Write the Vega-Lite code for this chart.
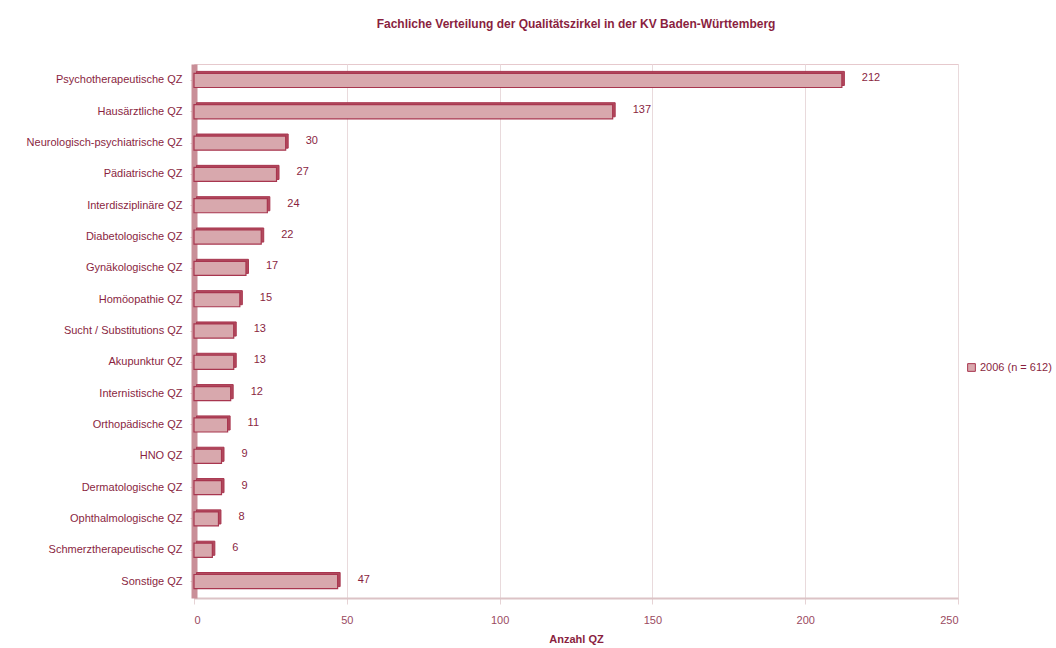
{
  "$schema": "https://vega.github.io/schema/vega-lite/v6.json",
  "autosize": "none",
  "width": 764,
  "height": 534,
  "padding": {"left": 194, "top": 64, "right": 98, "bottom": 50},
  "background": "white",
  "title": {
    "text": "Fachliche Verteilung der Qualitätszirkel in der KV Baden-Württemberg",
    "font": "Liberation Sans",
    "fontSize": 12,
    "fontWeight": "bold",
    "color": "#8a1f3f",
    "anchor": "middle",
    "offset": 33
  },
  "config": {
    "view": {"stroke": "#e6c9cd", "strokeWidth": 1},
    "font": "Liberation Sans"
  },
  "data": {
    "values": [
      {"cat": "Psychotherapeutische QZ", "n": 212, "series": "2006 (n = 612)"},
      {"cat": "Hausärztliche QZ", "n": 137, "series": "2006 (n = 612)"},
      {"cat": "Neurologisch-psychiatrische QZ", "n": 30, "series": "2006 (n = 612)"},
      {"cat": "Pädiatrische QZ", "n": 27, "series": "2006 (n = 612)"},
      {"cat": "Interdisziplinäre QZ", "n": 24, "series": "2006 (n = 612)"},
      {"cat": "Diabetologische QZ", "n": 22, "series": "2006 (n = 612)"},
      {"cat": "Gynäkologische QZ", "n": 17, "series": "2006 (n = 612)"},
      {"cat": "Homöopathie QZ", "n": 15, "series": "2006 (n = 612)"},
      {"cat": "Sucht / Substitutions QZ", "n": 13, "series": "2006 (n = 612)"},
      {"cat": "Akupunktur QZ", "n": 13, "series": "2006 (n = 612)"},
      {"cat": "Internistische QZ", "n": 12, "series": "2006 (n = 612)"},
      {"cat": "Orthopädische QZ", "n": 11, "series": "2006 (n = 612)"},
      {"cat": "HNO QZ", "n": 9, "series": "2006 (n = 612)"},
      {"cat": "Dermatologische QZ", "n": 9, "series": "2006 (n = 612)"},
      {"cat": "Ophthalmologische QZ", "n": 8, "series": "2006 (n = 612)"},
      {"cat": "Schmerztherapeutische QZ", "n": 6, "series": "2006 (n = 612)"},
      {"cat": "Sonstige QZ", "n": 47, "series": "2006 (n = 612)"}
    ]
  },
  "encoding": {
    "y": {
      "field": "cat",
      "type": "nominal",
      "sort": null,
      "scale": {"paddingInner": 0.55, "paddingOuter": 0.3},
      "axis": {
        "title": null,
        "labelFont": "Liberation Sans",
        "labelFontSize": 11,
        "labelColor": "#8a1f3f",
        "labelPadding": 8,
        "domainColor": "#c98f98",
        "domainWidth": 6,
        "tickColor": "#e6c9cd",
        "tickSize": 4
      }
    },
    "x": {
      "field": "n",
      "type": "quantitative",
      "scale": {"domain": [0, 250], "nice": false},
      "axis": {
        "title": "Anzahl QZ",
        "titleFont": "Liberation Sans",
        "titleFontSize": 11,
        "titleFontWeight": "bold",
        "titleColor": "#8a1f3f",
        "titlePadding": 8,
        "values": [0, 50, 100, 150, 200, 250],
        "labelFont": "Liberation Sans",
        "labelFontSize": 11,
        "labelColor": "#9a4a5f",
        "labelPadding": 10,
        "domainColor": "#dcc3c6",
        "domainWidth": 2,
        "tickColor": "#e6d3d5",
        "tickSize": 6,
        "grid": true,
        "gridColor": "#e9dadc"
      }
    }
  },
  "layer": [
    {
      "mark": {"type": "bar", "fill": "#b24a5e", "xOffset": 2.5, "yOffset": -2, "stroke": "#a8364f", "strokeWidth": 1},
      "encoding": {}
    },
    {
      "mark": {"type": "bar", "stroke": "#a8364f", "strokeWidth": 1.2},
      "encoding": {
        "color": {
          "field": "series",
          "type": "nominal",
          "scale": {"range": ["#d8a8ad"]},
          "legend": {
            "title": null,
            "orient": "none",
            "legendX": 772,
            "legendY": 298,
            "symbolType": "square",
            "symbolSize": 60,
            "symbolStrokeColor": "#a8364f",
            "symbolStrokeWidth": 1,
            "labelFont": "Liberation Sans",
            "labelFontSize": 11,
            "labelColor": "#8a1f3f",
            "labelOffset": 3
          }
        }
      }
    },
    {
      "mark": {"type": "text", "align": "left", "dx": 20, "dy": -2, "font": "Liberation Sans", "fontSize": 11, "color": "#8a1f3f"},
      "encoding": {"text": {"field": "n", "type": "quantitative"}}
    }
  ]
}
